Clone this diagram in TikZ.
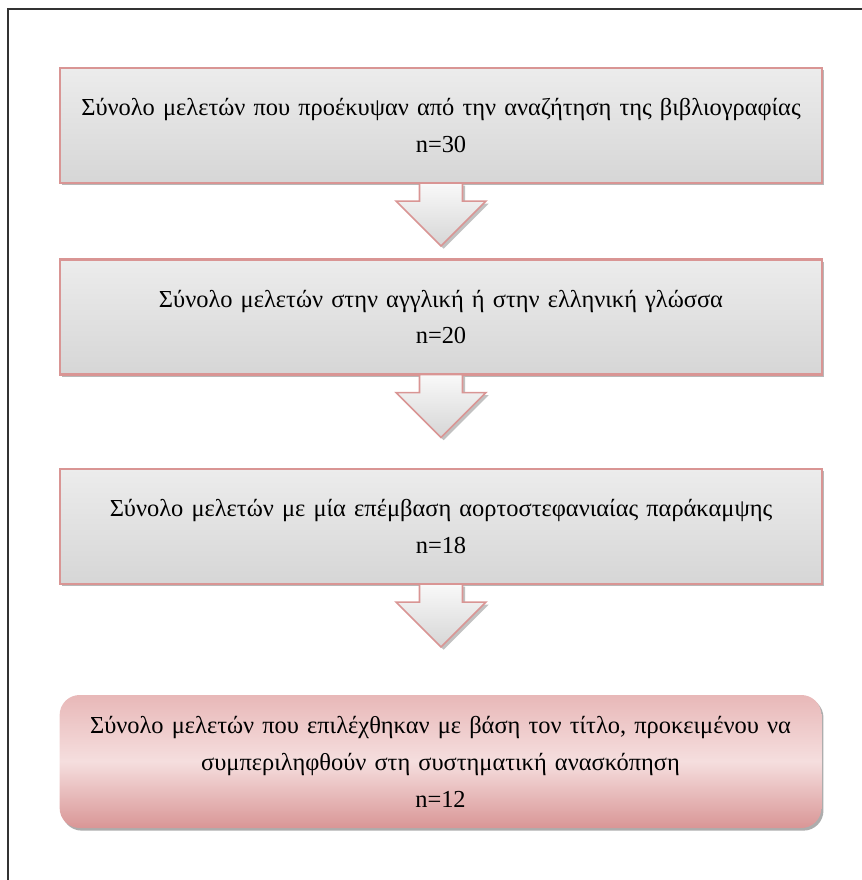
\documentclass[tikz,border=0pt]{standalone}
\usepackage{fontspec}
\setmainfont{Liberation Serif}
\usetikzlibrary{shapes,arrows,positioning,calc,shadows}

\definecolor{boxline}{RGB}{217,149,148}
\definecolor{graytop}{RGB}{236,236,236}
\definecolor{graybot}{RGB}{214,214,214}
\definecolor{pinktop}{RGB}{232,184,184}
\definecolor{pinkmid}{RGB}{245,222,222}
\definecolor{pinkbot}{RGB}{217,150,150}

\tikzset{
  graybox/.style={rectangle, draw=boxline, line width=1.2pt, top color=graytop, bottom color=graybot,
    minimum width=15.16cm, minimum height=2.3cm, text width=15cm, align=center,
    font=\fontsize{13.9}{21}\selectfont,
    drop shadow={shadow xshift=1.2pt, shadow yshift=-1.2pt, fill=gray!70, opacity=0.8}},
  pinkbox/.style={rectangle, rounded corners=0.4cm, top color=pinktop, bottom color=pinkbot, middle color=pinkmid,
    minimum width=15.1cm, minimum height=2.66cm, text width=15cm, align=center,
    font=\fontsize{13.9}{21}\selectfont,
    drop shadow={shadow xshift=1.2pt, shadow yshift=-1.5pt, fill=gray!80, opacity=0.8}},
  downarrow/.style={draw=boxline, line width=0.9pt, top color=white!95!gray, bottom color=graybot,
    drop shadow={shadow xshift=1.5pt, shadow yshift=-1.5pt, fill=gray!60, opacity=0.8}}
}

\begin{document}
\begin{tikzpicture}
\useasboundingbox (0,0) rectangle (17.24,-17.6);

% Draw frame
\draw[line width=0.7pt, black!80] (0.16,-17.6) -- (0.16,-0.18) -- (17.24,-0.18);

% Draw boxes
\node[graybox] (search) at (8.82,-2.51) {Σύνολο μελετών που προέκυψαν από την αναζήτηση της βιβλιογραφίας\\n=30};
\node[graybox] (lang) at (8.82,-6.34) {Σύνολο μελετών στην αγγλική ή στην ελληνική γλώσσα\\n=20};
\node[graybox] (cabg) at (8.82,-10.53) {Σύνολο μελετών με μία επέμβαση αορτοστεφανιαίας παράκαμψης\\n=18};
\node[pinkbox] (final) at (8.81,-15.23) {Σύνολο μελετών που επιλέχθηκαν με βάση τον τίτλο, προκειμένου να\\συμπεριληφθούν στη συστηματική ανασκόπηση\\n=12};

% Draw arrows
\foreach \a in {search,lang,cabg}
  \draw[downarrow] ($(\a.south)+(-0.43,0.02)$) -- ++(0,-0.36) -- ++(-0.47,0)
    -- ($(\a.south)+(0,-1.24)$) -- ($(\a.south)+(0.9,-0.34)$) -- ++(-0.47,0) -- ($(\a.south)+(0.43,0.02)$) -- cycle;
\end{tikzpicture}
\end{document}
